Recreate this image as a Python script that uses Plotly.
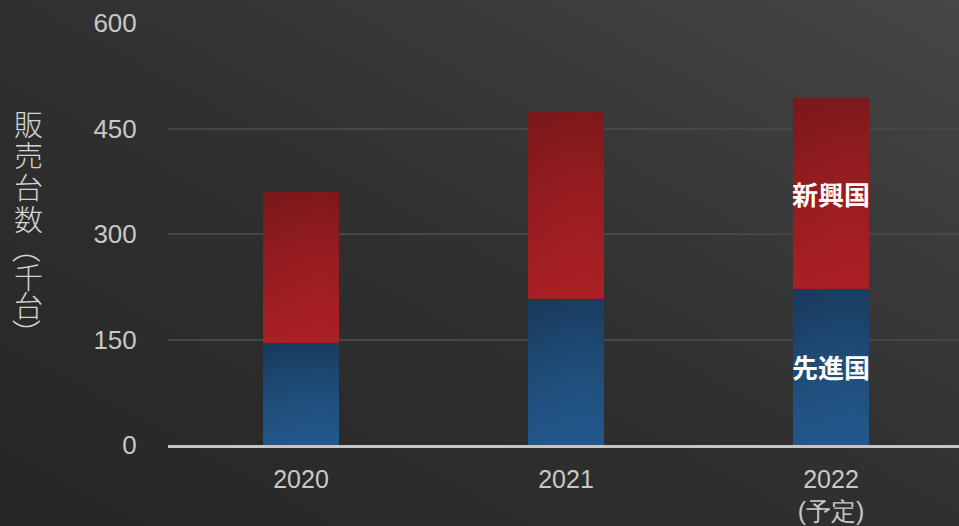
import base64
import plotly.graph_objects as go

years = ["2020", "2021", "2022"]
year_labels = ["2020", "2021", "2022<br>(予定)"]
advanced = [145, 208, 222]     # 先進国
emerging = [215, 266, 272]     # 新興国
y_ticks = [0, 150, 300, 450, 600]
y_title_chars = ["販", "売", "台", "数", "（", "千", "台", "）"]

W, H = 959, 526
ml, mr, mt, mb = 168, 0, 23, 81
pw, ph = W - ml - mr, H - mt - mb
BAR_W = 0.287
xpos = list(range(len(years)))


def svg_uri(body, w=100, h=100):
    s = (f"<svg xmlns='http://www.w3.org/2000/svg' width='{w}' height='{h}' "
         f"viewBox='0 0 {w} {h}' preserveAspectRatio='none'>{body}</svg>")
    return "data:image/svg+xml;base64," + base64.b64encode(s.encode()).decode()


bg_src = svg_uri(
    "<defs><linearGradient id='g' x1='0' y1='1' x2='1' y2='0'>"
    "<stop offset='0' stop-color='#262626'/><stop offset='0.5' stop-color='#303030'/>"
    "<stop offset='1' stop-color='#464646'/></linearGradient></defs>"
    "<rect width='100%' height='100%' fill='url(#g)'/>", W, H)


def bar_grad(top, bottom, glow):
    return svg_uri(
        "<defs><linearGradient id='v' x1='0' y1='0' x2='0' y2='1'>"
        f"<stop offset='0' stop-color='{top}'/><stop offset='1' stop-color='{bottom}'/>"
        "</linearGradient>"
        "<radialGradient id='r' cx='0.75' cy='0.75' r='0.9'>"
        f"<stop offset='0' stop-color='{glow}' stop-opacity='0.35'/>"
        f"<stop offset='1' stop-color='{glow}' stop-opacity='0'/></radialGradient></defs>"
        "<rect width='100%' height='100%' fill='url(#v)'/>"
        "<rect width='100%' height='100%' fill='url(#r)'/>")


red_src = bar_grad("#7a181a", "#a81f24", "#b42226")
blue_src = bar_grad("#193a5c", "#22578a", "#245c90")

fig = go.Figure()
fig.add_trace(go.Bar(x=xpos, y=advanced, name="先進国", width=BAR_W,
                     marker=dict(color="#1f4c77", line=dict(width=0))))
fig.add_trace(go.Bar(x=xpos, y=emerging, name="新興国", width=BAR_W,
                     marker=dict(color="#951d20", line=dict(width=0))))

# gradient skins over each bar segment, positioned from the same data
for i, (a, e) in enumerate(zip(advanced, emerging)):
    fig.add_layout_image(source=blue_src, xref="x", yref="y",
                         x=xpos[i] - BAR_W / 2, y=a, sizex=BAR_W, sizey=a,
                         xanchor="left", yanchor="top", sizing="stretch", layer="above")
    fig.add_layout_image(source=red_src, xref="x", yref="y",
                         x=xpos[i] - BAR_W / 2, y=a + e, sizex=BAR_W, sizey=e,
                         xanchor="left", yanchor="top", sizing="stretch", layer="above")

lbl_font = dict(family="Noto Sans CJK JP", size=26, color="white", weight=700)
fig.add_annotation(x=xpos[2], y=advanced[2] / 2, text="先進国",
                   showarrow=False, font=lbl_font)
fig.add_annotation(x=xpos[2], y=advanced[2] + emerging[2] / 2, text="新興国",
                   showarrow=False, font=lbl_font)

# vertical (upright) axis title, one character per annotation;
# the brackets are turned a quarter turn as in vertical Japanese writing
title_px = [123, 154, 186, 218, 248, 276, 304, 333]
for ch, py in zip(y_title_chars, title_px):
    is_bracket = ch in "（）"
    fig.add_annotation(xref="paper", yref="paper", x=(28 - ml) / pw,
                       y=1 - (py - mt) / ph, xanchor="center", yanchor="middle",
                       showarrow=False, text=ch, textangle=90 if is_bracket else 0,
                       font=dict(family="Noto Sans CJK JP", size=29,
                                 color="#d4d4d4", weight=300))

fig.add_layout_image(source=bg_src, xref="paper", yref="paper",
                     x=-ml / pw, y=1 + mt / ph, sizex=W / pw, sizey=H / ph,
                     xanchor="left", yanchor="top", sizing="stretch", layer="below")

fig.update_layout(
    width=W, height=H, barmode="stack", showlegend=False,
    margin=dict(l=ml, r=mr, t=mt, b=mb),
    paper_bgcolor="#303030", plot_bgcolor="rgba(0,0,0,0)",
    xaxis=dict(type="linear", tickvals=xpos, ticktext=year_labels,
               range=[-0.502, 2.483],
               showgrid=False, showline=True, linecolor="#c6c6c6", linewidth=2.5,
               ticks="outside", ticklen=10, tickcolor="rgba(0,0,0,0)",
               tickfont=dict(family="Liberation Sans", size=25, color="#c8c8c8"),
               fixedrange=True),
    yaxis=dict(range=[0, 600], tickvals=y_ticks, showgrid=True,
               gridcolor="#474747", gridwidth=2, zeroline=False,
               ticks="outside", ticklen=25, tickcolor="rgba(0,0,0,0)",
               tickfont=dict(family="Liberation Sans", size=26, color="#c8c8c8"),
               fixedrange=True),
)

fig.write_html("out.html")
